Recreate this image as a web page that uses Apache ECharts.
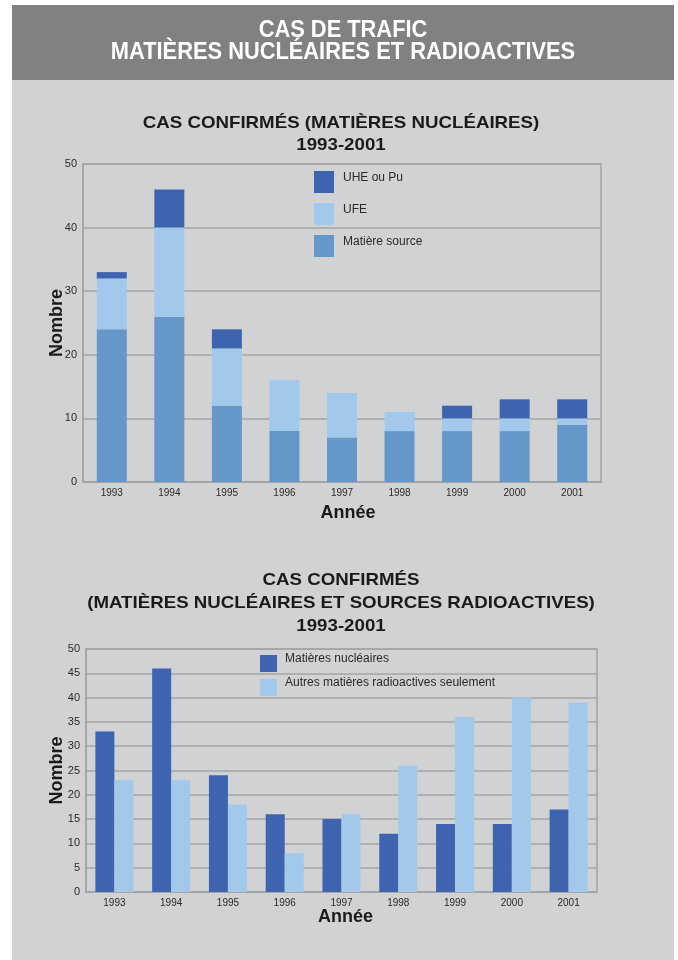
<!DOCTYPE html>
<html>
<head>
<meta charset="utf-8">
<style>
  html, body { margin: 0; padding: 0; background: #ffffff; }
  #chart { width: 678px; height: 960px; }
</style>
<script src="https://cdn.jsdelivr.net/npm/echarts@6/dist/echarts.min.js"></script>
</head>
<body>
<div id="chart"></div>
<script>
// ---- Data ----
const years = ['1993', '1994', '1995', '1996', '1997', '1998', '1999', '2000', '2001'];

// Chart 1: confirmed cases (nuclear materials), stacked
const matiereSource = [24, 26, 12, 8, 7, 8, 8, 8, 9];
const ufe           = [8, 14, 9, 8, 7, 3, 2, 2, 1];
const uheOuPu       = [1, 6, 3, 0, 0, 0, 2, 3, 3];

// Chart 2: nuclear materials vs other radioactive materials
const matieresNucleaires = [33, 46, 24, 16, 15, 12, 14, 14, 17];
const autresRadioactives = [23, 23, 18, 8, 16, 26, 36, 40, 39];

const yTicks1 = [0, 10, 20, 30, 40, 50];
const yTicks2 = [0, 5, 10, 15, 20, 25, 30, 35, 40, 45, 50];

const headerLines = ['CAS DE TRAFIC', 'MATIÈRES NUCLÉAIRES ET RADIOACTIVES'];
const title1 = 'CAS CONFIRMÉS (MATIÈRES NUCLÉAIRES)\n1993-2001';
const title2 = 'CAS CONFIRMÉS\n(MATIÈRES NUCLÉAIRES ET SOURCES RADIOACTIVES)\n1993-2001';

// ---- Styles ----
const C_DARK = '#3e64b0';
const C_MID = '#6697c9';
const C_LIGHT = '#a2c8ec';
const GRID_LINE = '#a3a4a6';
const TXT = '#2a2a2a';
const FONT = '"Liberation Sans", Arial, sans-serif';

const chart = echarts.init(document.getElementById('chart'), null, { renderer: 'canvas' });

function yAxisCfg(gridIndex, ticks, gap) {
  const step = ticks[1] - ticks[0];
  return {
    type: 'value', gridIndex: gridIndex,
    min: ticks[0], max: ticks[ticks.length - 1], interval: step,
    name: 'Nombre', nameLocation: 'middle', nameGap: gap, nameMoveOverlap: false,
    nameTextStyle: { fontFamily: FONT, fontWeight: 'bold', fontSize: 18, color: '#1a1a1a' },
    axisLine: { show: true, lineStyle: { color: GRID_LINE, width: 1.5 } },
    axisTick: { show: false },
    axisLabel: { fontFamily: FONT, fontSize: 11, color: TXT, margin: 6 },
    splitLine: { show: true, lineStyle: { color: GRID_LINE, width: 1.5 } }
  };
}
function xAxisCfg(gridIndex, gap, padLeft) {
  return {
    type: 'category', gridIndex: gridIndex, data: years,
    name: 'Année', nameLocation: 'middle', nameGap: gap, nameMoveOverlap: false,
    nameTextStyle: { fontFamily: FONT, fontWeight: 'bold', fontSize: 18, color: '#1a1a1a', padding: [0, 0, 0, padLeft] },
    axisLine: { show: true, lineStyle: { color: GRID_LINE, width: 1.5 } },
    axisTick: { show: false },
    axisLabel: { fontFamily: FONT, fontSize: 10, color: TXT, margin: 6 }
  };
}
function legendText(padLeft) {
  return {
    fontFamily: FONT, fontSize: 12, color: TXT,
    rich: { t: { fontFamily: FONT, fontSize: 12, color: TXT, padding: [0, 0, 9, padLeft] } }
  };
}

const option = {
  backgroundColor: '#ffffff',
  animation: false,
  graphic: [
    { type: 'rect', shape: { x: 12, y: 80, width: 662, height: 880 }, style: { fill: '#d1d2d4' }, z: -10 },
    { type: 'rect', shape: { x: 12, y: 5, width: 662, height: 75 }, style: { fill: '#808183' }, z: -10 },
    { type: 'text', x: 343, y: 30, scaleX: 0.91, style: { text: headerLines[0], fill: '#ffffff',
        font: 'bold 24px "Liberation Sans", Arial, sans-serif', textAlign: 'center', textVerticalAlign: 'middle' } },
    { type: 'text', x: 343, y: 52, scaleX: 0.91, style: { text: headerLines[1], fill: '#ffffff',
        font: 'bold 24px "Liberation Sans", Arial, sans-serif', textAlign: 'center', textVerticalAlign: 'middle' } },
    { type: 'text', x: 341, y: 134, scaleX: 1.1, style: { text: title1, fill: '#1a1a1a',
        font: 'bold 17px "Liberation Sans", Arial, sans-serif', lineHeight: 22, textAlign: 'center', textVerticalAlign: 'middle' } },
    { type: 'text', x: 341, y: 603, scaleX: 1.1, style: { text: title2, fill: '#1a1a1a',
        font: 'bold 17px "Liberation Sans", Arial, sans-serif', lineHeight: 23, textAlign: 'center', textVerticalAlign: 'middle' } }
  ],
  legend: [
    { orient: 'vertical', left: 314, top: 171, padding: 0, itemWidth: 20, itemHeight: 22, itemGap: 10,
      icon: 'rect', data: ['UHE ou Pu', 'UFE', 'Matière source'],
      formatter: '{t|{name}}', textStyle: legendText(4) },
    { orient: 'vertical', left: 260, top: 653, padding: 0, itemWidth: 17, itemHeight: 17, itemGap: 5,
      icon: 'rect', data: ['Matières nucléaires', 'Autres matières radioactives seulement'],
      formatter: '{t|{name}}', textStyle: legendText(3) }
  ],
  grid: [
    { left: 83, top: 164, width: 518, height: 318, show: true, borderColor: GRID_LINE, borderWidth: 1.5, backgroundColor: 'transparent' },
    { left: 86, top: 649, width: 511, height: 243, show: true, borderColor: GRID_LINE, borderWidth: 1.5, backgroundColor: 'transparent' }
  ],
  xAxis: [xAxisCfg(0, 22, 12), xAxisCfg(1, 16, 8)],
  yAxis: [yAxisCfg(0, yTicks1, 17), yAxisCfg(1, yTicks2, 20)],
  series: [
    { name: 'Matière source', type: 'bar', stack: 'a', xAxisIndex: 0, yAxisIndex: 0, barWidth: 30,
      itemStyle: { color: C_MID }, data: matiereSource },
    { name: 'UFE', type: 'bar', stack: 'a', xAxisIndex: 0, yAxisIndex: 0, barWidth: 30,
      itemStyle: { color: C_LIGHT }, data: ufe },
    { name: 'UHE ou Pu', type: 'bar', stack: 'a', xAxisIndex: 0, yAxisIndex: 0, barWidth: 30,
      itemStyle: { color: C_DARK }, data: uheOuPu },
    { name: 'Matières nucléaires', type: 'bar', xAxisIndex: 1, yAxisIndex: 1, barWidth: 19, barGap: '0%',
      itemStyle: { color: C_DARK }, data: matieresNucleaires },
    { name: 'Autres matières radioactives seulement', type: 'bar', xAxisIndex: 1, yAxisIndex: 1, barWidth: 19, barGap: '0%',
      itemStyle: { color: C_LIGHT }, data: autresRadioactives }
  ]
};
chart.setOption(option);
</script>
</body>
</html>
